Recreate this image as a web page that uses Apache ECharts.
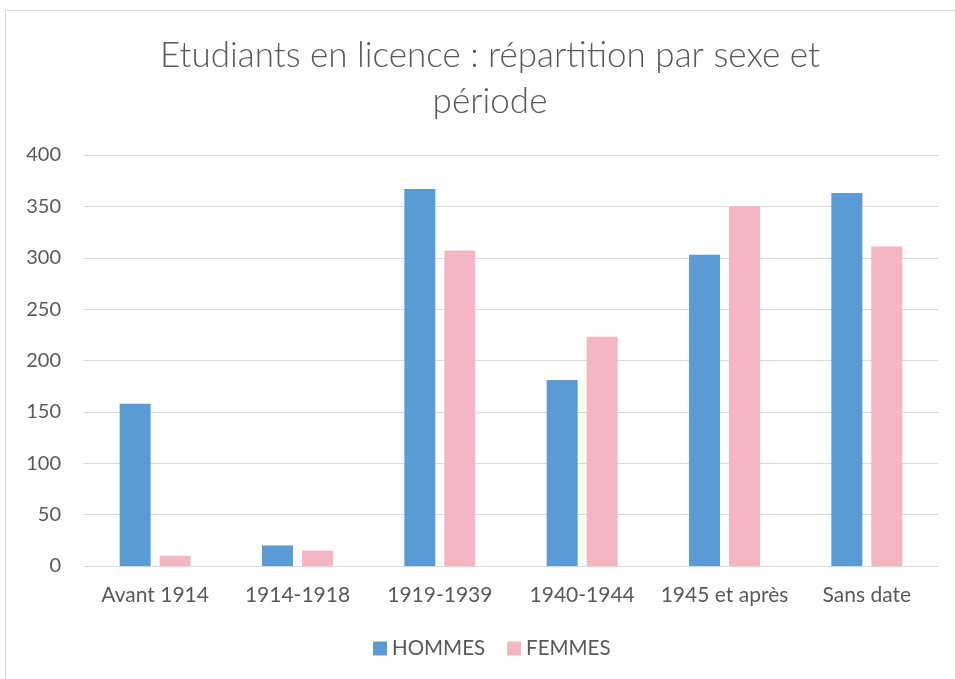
<!DOCTYPE html>
<html>
<head>
<meta charset="utf-8">
<script src="https://cdn.jsdelivr.net/npm/echarts@6/dist/echarts.min.js"></script>
<style>
  html, body { margin: 0; padding: 0; background: #fff; }
  #frame {
    position: absolute; left: 5px; top: 10px; width: 970px; height: 700px;
    border: 1px solid #d9d9d9; box-sizing: border-box;
  }
  #chart { position: absolute; left: 0; top: 0; width: 955px; height: 679px; }
</style>
</head>
<body>
<div id="frame"></div>
<div id="chart"></div>
<script>
const categories = ['Avant 1914', '1914-1918', '1919-1939', '1940-1944', '1945 et après', 'Sans date']
const hommes = [158, 20, 367, 181, 303, 363]
const femmes = [10, 15, 307, 223, 350, 311]
const yTicks = [0, 400, 50]

const textColor = '#595959'
const font = 'Lato, "Open Sans", sans-serif'

const chart = echarts.init(document.getElementById('chart'))
chart.setOption({
  animation: false,
  textStyle: { fontFamily: font },
  title: {
    text: 'Etudiants en licence : répartition par sexe et\npériode',
    left: 485,
    top: 28,
    textAlign: 'center',
    textStyle: { color: textColor, fontSize: 35, fontWeight: 300, lineHeight: 46, fontFamily: font }
  },
  legend: {
    bottom: 15,
    left: 368,
    itemWidth: 14,
    itemHeight: 14,
    itemGap: 22,
    icon: 'rect',
    textStyle: { color: textColor, fontSize: 20.5, fontFamily: font },
    data: ['HOMMES', 'FEMMES']
  },
  grid: { left: 84, right: 17, top: 155, bottom: 113 },
  xAxis: {
    type: 'category',
    data: categories,
    axisLine: { lineStyle: { color: '#d9d9d9', width: 1 } },
    axisTick: { show: false },
    axisLabel: { color: textColor, fontSize: 21, margin: 19, interval: 0, fontFamily: font }
  },
  yAxis: {
    type: 'value',
    min: yTicks[0],
    max: yTicks[1],
    interval: yTicks[2],
    axisLine: { show: false },
    axisTick: { show: false },
    splitLine: { lineStyle: { color: '#d9d9d9', width: 1 } },
    axisLabel: { color: textColor, fontSize: 20, margin: 23, fontFamily: font }
  },
  series: [
    {
      name: 'HOMMES',
      type: 'bar',
      data: hommes,
      barWidth: 31,
      barGap: '29%',
      itemStyle: { color: '#5b9bd5' }
    },
    {
      name: 'FEMMES',
      type: 'bar',
      data: femmes,
      barWidth: 31,
      itemStyle: { color: '#f4b6c2' }
    }
  ]
})
</script>
</body>
</html>
